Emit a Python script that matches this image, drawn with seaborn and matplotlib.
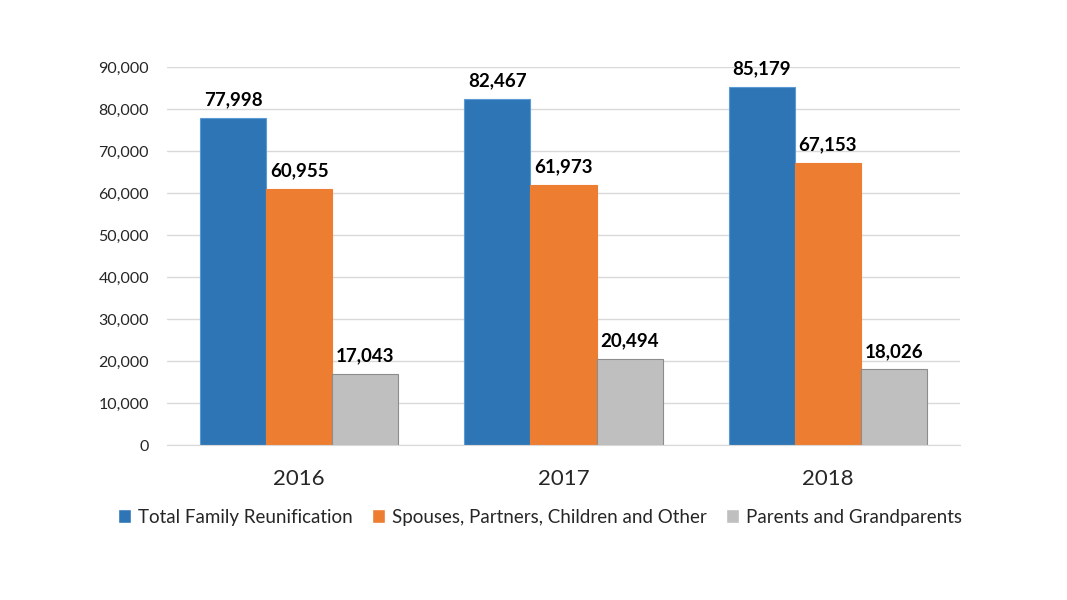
import matplotlib
matplotlib.use("Agg")
import matplotlib.pyplot as plt
import seaborn as sns
import pandas as pd

years = ["2016", "2017", "2018"]
series = ["Total Family Reunification", "Spouses, Partners, Children and Other", "Parents and Grandparents"]
total = [77998, 82467, 85179]
spouses = [60955, 61973, 67153]
parents = [17043, 20494, 18026]
colors = ["#2E75B6", "#ED7D31", "#BFBFBF"]
edges = ["#5B9BD5", "#ED7D31", "#8C8C8C"]

df = pd.DataFrame({
    "year": years * 3,
    "series": [series[0]] * 3 + [series[1]] * 3 + [series[2]] * 3,
    "value": total + spouses + parents,
})

sns.set_style("white")
plt.rcParams["font.family"] = ["Lato", "DejaVu Sans"]

fig = plt.figure(figsize=(10.67, 6), dpi=100)
ax = fig.add_axes([167 / 1067, 0.258, 793 / 1067, 0.630])

sns.barplot(data=df, x="year", y="value", hue="series", hue_order=series,
            palette=colors, saturation=1, width=0.75, ax=ax, legend=True, errorbar=None)

for i, cont in enumerate(ax.containers):
    for p in cont.patches:
        p.set_edgecolor(edges[i])
        p.set_linewidth(0.8)
    ax.bar_label(cont, labels=[f"{v:,.0f}" for v in cont.datavalues], padding=7,
                 fontsize=13.5, fontweight="bold", color="black")

ax.set_ylim(0, 90000)
ax.set_yticks(range(0, 90001, 10000))
ax.set_yticklabels([f"{v:,}" for v in range(0, 90001, 10000)], fontsize=11.5)
ax.tick_params(axis="x", labelsize=16, length=0, pad=17)
ax.tick_params(axis="y", length=0, pad=13)
ax.set_xlabel("")
ax.set_ylabel("")
ax.grid(axis="y", color="#D9D9D9", linewidth=1)
ax.set_axisbelow(True)
for s in ["top", "right", "left"]:
    ax.spines[s].set_visible(False)
ax.spines["bottom"].set_color("#D9D9D9")

handles, labels = ax.get_legend_handles_labels()
ax.legend(handles, labels, loc="center", frameon=False,
          ncol=3, fontsize=13.5, handlelength=0.7, handleheight=0.7, handletextpad=0.4,
          columnspacing=1.0, bbox_to_anchor=(540 / 1067, 1 - 517 / 600),
          bbox_transform=fig.transFigure)

fig.savefig("out.png", dpi=100)
